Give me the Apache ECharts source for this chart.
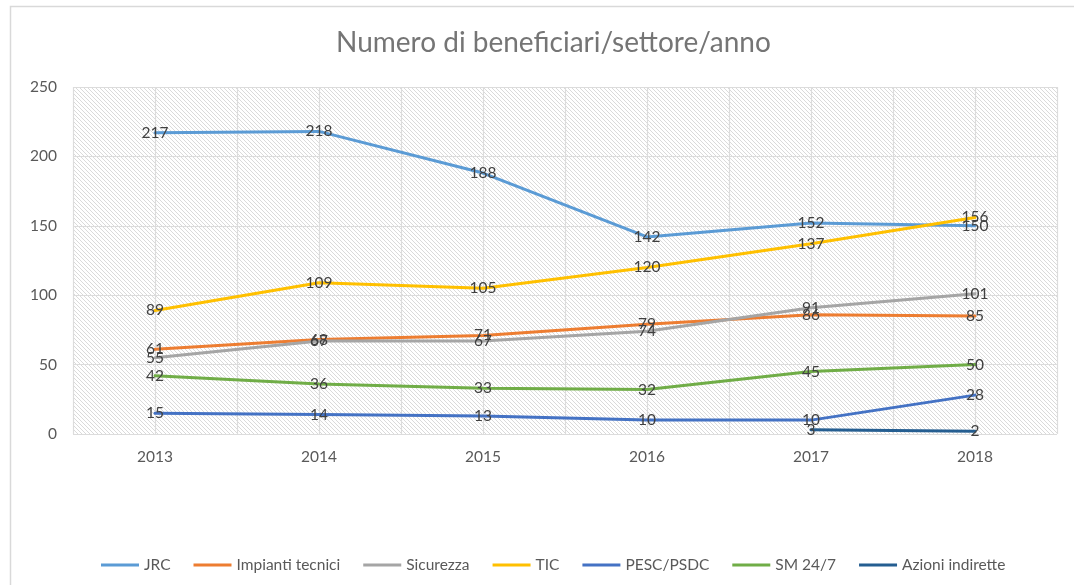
<!DOCTYPE html>
<html>
<head>
<meta charset="utf-8">
<script src="https://cdn.jsdelivr.net/npm/echarts@6/dist/echarts.min.js"></script>
<style>
html,body{margin:0;padding:0;background:#fff;}
#chart{width:1074px;height:585px;}
</style>
</head>
<body>
<div id="chart"></div>
<script>
var titleText = 'Numero di beneficiari/settore/anno';
var years = ['2013', '2014', '2015', '2016', '2017', '2018'];
var yTicks = [0, 50, 100, 150, 200, 250];
var jrc = [217, 218, 188, 142, 152, 150];
var impianti = [61, 68, 71, 79, 86, 85];
var sicurezza = [55, 67, 67, 74, 91, 101];
var tic = [89, 109, 105, 120, 137, 156];
var pesc = [15, 14, 13, 10, 10, 28];
var sm247 = [42, 36, 33, 32, 45, 50];
var azioni = [null, null, null, null, 3, 2];

var seriesNames = ['JRC', 'Impianti tecnici', 'Sicurezza', 'TIC', 'PESC/PSDC', 'SM 24/7', 'Azioni indirette'];
var seriesData = [jrc, impianti, sicurezza, tic, pesc, sm247, azioni];
var seriesColors = ['#5B9BD5', '#ED7D31', '#A5A5A5', '#FFC000', '#4472C4', '#70AD47', '#255E91'];

// hatch pattern for plot area
var pc = document.createElement('canvas');
pc.width = 4; pc.height = 4;
var pctx = pc.getContext('2d');
pctx.fillStyle = '#ffffff';
pctx.fillRect(0, 0, 4, 4);
pctx.fillStyle = '#dadada';
for (var i = 0; i < 4; i++) { pctx.fillRect(i, i, 1, 1); }

var chart = echarts.init(document.getElementById('chart'));
var FONT = 'Lato';

var series = seriesNames.map(function (n, k) {
  return {
    name: n,
    type: 'line',
    data: seriesData[k],
    xAxisIndex: 0,
    yAxisIndex: 0,
    showSymbol: true,
    symbol: 'circle',
    symbolSize: 0,
    lineStyle: { width: 3, color: seriesColors[k], cap: 'round' },
    itemStyle: { color: seriesColors[k] },
    label: {
      show: true,
      position: 'inside',
      color: '#404040',
      fontFamily: FONT,
      fontSize: 15.5
    },
    emphasis: { disabled: true },
    animation: false
  };
});

chart.setOption({
  animation: false,
  color: seriesColors,
  title: {
    text: titleText,
    left: 331,
    top: 24,
    textStyle: { fontFamily: FONT, fontSize: 28, fontWeight: 'normal', color: '#757575' }
  },
  graphic: [{
    type: 'rect',
    left: 8, top: 4,
    shape: { width: 1200, height: 800 },
    style: { fill: null, stroke: '#d9d9d9', lineWidth: 1.5 },
    silent: true, z: -10
  }],
  grid: {
    left: 73, right: 17, top: 87, bottom: 151,
    show: true,
    backgroundColor: { image: pc, repeat: 'repeat' },
    borderWidth: 0
  },
  legend: {
    data: seriesNames,
    left: 96,
    top: 552,
    icon: 'rect',
    itemWidth: 38,
    itemHeight: 3,
    itemGap: 23,
    textStyle: { fontFamily: FONT, fontSize: 15.5, color: '#595959' }
  },
  xAxis: [{
    type: 'category',
    data: years,
    boundaryGap: true,
    axisLine: { show: false },
    axisTick: { show: false },
    splitLine: { show: false },
    axisLabel: { color: '#595959', fontFamily: FONT, fontSize: 15.5, margin: 15 }
  }, {
    type: 'value',
    min: 0, max: 12, interval: 1,
    position: 'bottom',
    axisLine: { show: false },
    axisTick: { show: false },
    axisLabel: { show: false },
    splitLine: { show: true, lineStyle: { color: '#dcdcdc', width: 1.2 } }
  }],
  yAxis: {
    type: 'value',
    min: yTicks[0],
    max: yTicks[yTicks.length - 1],
    interval: 50,
    axisLine: { show: false },
    axisTick: { show: false },
    axisLabel: { color: '#595959', fontFamily: FONT, fontSize: 15.5, margin: 16 },
    splitLine: { show: true, lineStyle: { color: '#dcdcdc', width: 1.2 } }
  },
  series: series
});
</script>
</body>
</html>
